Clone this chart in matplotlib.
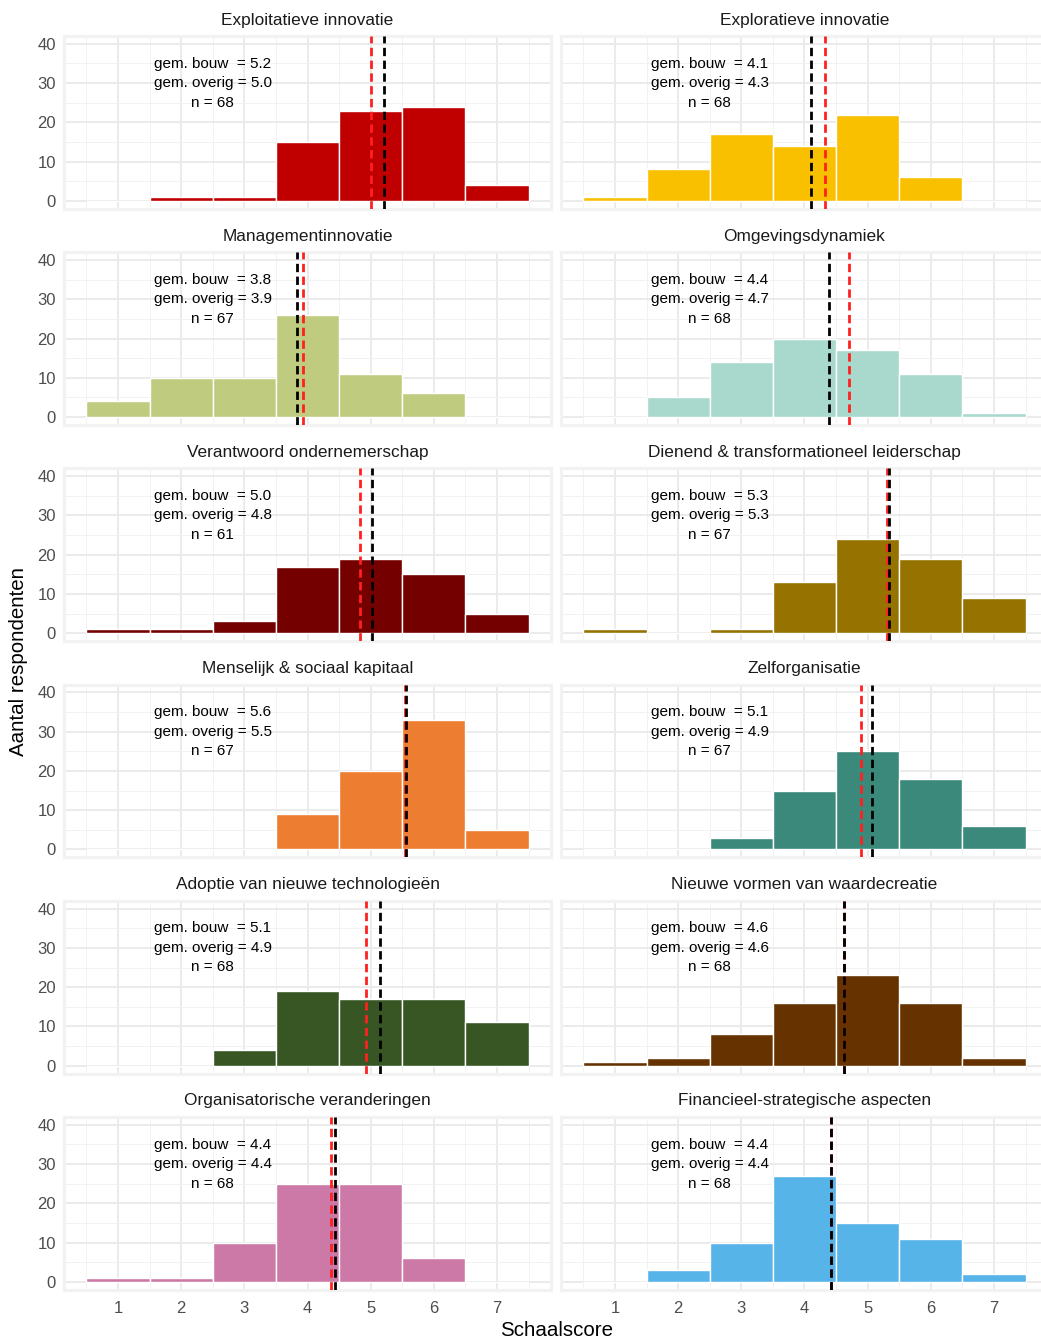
import numpy as np
import matplotlib
matplotlib.use("Agg")
import matplotlib.pyplot as plt

plt.rcParams['font.family'] = ['Liberation Sans', 'DejaVu Sans']

# facet titles, in reading order (left to right, top to bottom)
titles = [
    "Exploitatieve innovatie", "Exploratieve innovatie",
    "Managementinnovatie", "Omgevingsdynamiek",
    "Verantwoord ondernemerschap", "Dienend & transformationeel leiderschap",
    "Menselijk & sociaal kapitaal", "Zelforganisatie",
    "Adoptie van nieuwe technologieën", "Nieuwe vormen van waardecreatie",
    "Organisatorische veranderingen", "Financieel-strategische aspecten",
]

scores = [1, 2, 3, 4, 5, 6, 7]

# counts per score 1..7
counts = [
    [0, 1, 1, 15, 23, 24, 4],
    [1, 8, 17, 14, 22, 6, 0],
    [4, 10, 10, 26, 11, 6, 0],
    [0, 5, 14, 20, 17, 11, 1],
    [1, 1, 3, 17, 19, 15, 5],
    [1, 0, 1, 13, 24, 19, 9],
    [0, 0, 0, 9, 20, 33, 5],
    [0, 0, 3, 15, 25, 18, 6],
    [0, 0, 4, 19, 17, 17, 11],
    [1, 2, 8, 16, 23, 16, 2],
    [1, 1, 10, 25, 25, 6, 0],
    [0, 3, 10, 27, 15, 11, 2],
]

# mean lines: bouw (black) and overig (red)
mean_bouw = [5.21, 4.10, 3.83, 4.39, 5.02, 5.34, 5.56, 5.07, 5.14, 4.62, 4.43, 4.42]
mean_overig = [5.00, 4.32, 3.93, 4.71, 4.83, 5.30, 5.54, 4.90, 4.92, 4.62, 4.37, 4.42]
n_resp = [68, 68, 67, 68, 61, 67, 67, 67, 68, 68, 68, 68]

colors = ["#C00000", "#F9C000", "#BFCC80", "#A9D9CD", "#740000", "#967200",
          "#ED7D31", "#3A897A", "#375623", "#663300", "#CC79A7", "#56B4E9"]

W, H = 1041, 1340
fig = plt.figure(figsize=(W / 100, H / 100), dpi=100)

col_x = [64.3, 561.3]
panel_w = 486.4
panel_h = 172.7
row_top0 = 36.0
row_step = 216.2

for i, title in enumerate(titles):
    r, c = divmod(i, 2)
    left = col_x[c]
    top = row_top0 + r * row_step
    ax = fig.add_axes([left / W, 1 - (top + panel_h) / H, panel_w / W, panel_h / H])
    ax.set_xlim(0.15, 7.85)
    ax.set_ylim(-2, 42)

    ax.set_xticks(scores)
    ax.set_xticks(np.arange(0.5, 8, 1), minor=True)
    ax.set_yticks([0, 10, 20, 30, 40])
    ax.set_yticks([5, 15, 25, 35], minor=True)
    ax.grid(which='major', color='#EBEBEB', linewidth=1.4)
    ax.grid(which='minor', color='#F2F2F2', linewidth=0.7)
    ax.set_axisbelow(True)
    ax.tick_params(which='both', length=0, labelsize=12, labelcolor='#4D4D4D')
    ax.tick_params(axis='x', pad=8)
    ax.tick_params(axis='y', pad=6)
    if r < 5:
        ax.set_xticklabels([])
    if c == 1:
        ax.set_yticklabels([])
    for sp in ax.spines.values():
        sp.set_color('#F2F2F2')
        sp.set_linewidth(2.2)

    ax.bar(scores, counts[i], width=1.0, color=colors[i], edgecolor='white',
           linewidth=1.0, zorder=2)

    ax.axvline(mean_overig[i], color='#FF2020', linestyle=(0, (3.0, 1.6)),
               linewidth=2.0, zorder=3)
    ax.axvline(mean_bouw[i], color='black', linestyle=(0, (3.0, 1.6)),
               linewidth=2.0, zorder=4)

    label = (f"gem. bouw  = {mean_bouw[i]:.1f}\n"
             f"gem. overig = {mean_overig[i]:.1f}\n"
             f"n = {n_resp[i]}")
    ax.text(2.5, 30, label, ha='center', va='center', multialignment='center',
            fontsize=11, color='black', linespacing=1.5, zorder=5)

    fig.text((left + panel_w / 2) / W, 1 - (top - 16) / H, title,
             ha='center', va='center', fontsize=12.4, color='#1A1A1A')

fig.text(557 / W, 1 - 1330 / H, "Schaalscore", ha='center', va='center',
         fontsize=14.8, color='black')
fig.text(19 / W, 1 - 662 / H, "Aantal respondenten", ha='center', va='center',
         rotation=90, fontsize=14.8, color='black')

fig.savefig("out.png", dpi=100)
